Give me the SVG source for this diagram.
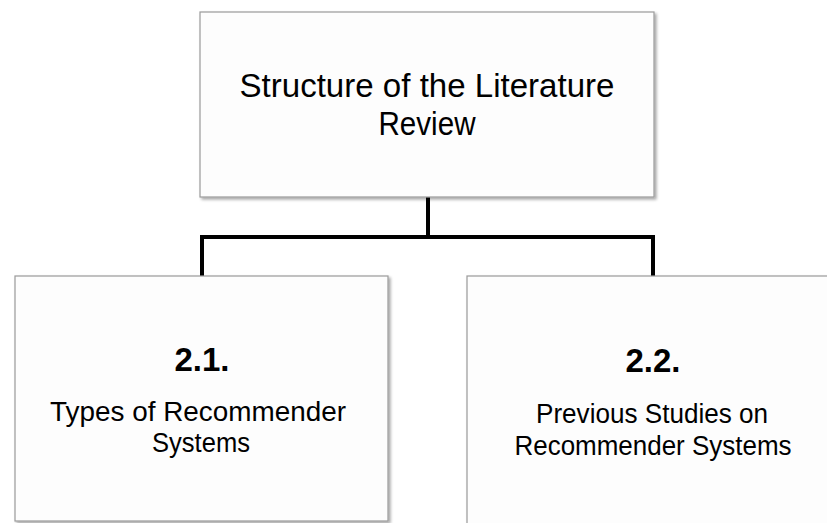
<svg xmlns="http://www.w3.org/2000/svg" width="827" height="523" viewBox="0 0 827 523">
<style>
.box{fill:#fdfdfd;stroke:#9a9a9a;stroke-width:1.2;filter:url(#sh)}
.t{font-family:"Liberation Sans",Arial,sans-serif;fill:#000;text-anchor:middle}
.b{font-weight:bold;font-size:33px}
.n{font-size:27px}
.h{font-size:33px}
.conn{fill:none;stroke:#000;stroke-width:4;stroke-linejoin:miter;stroke-linecap:butt}
</style>
<defs>
<filter id="sh" x="-5%" y="-5%" width="115%" height="115%">
<feGaussianBlur in="SourceAlpha" stdDeviation="1.5"/>
<feOffset dx="1.5" dy="2" result="o"/>
<feComponentTransfer><feFuncA type="linear" slope="0.35"/></feComponentTransfer>
<feMerge><feMergeNode/><feMergeNode in="SourceGraphic"/></feMerge>
</filter>
</defs>
<rect width="827" height="523" fill="#fff"/>
<g id="connectors">
<polyline class="conn" points="428,197 428,237"/>
<polyline class="conn" points="202,276 202,237 653,237 653,276"/>
</g>
<g id="root">
<rect class="box" x="200" y="12" width="454" height="185"/>
<text class="t h" x="427" y="97" textLength="375" lengthAdjust="spacingAndGlyphs">Structure of the Literature</text>
<text class="t h" x="427" y="135" textLength="97" lengthAdjust="spacingAndGlyphs">Review</text>
</g>
<g id="node21">
<rect class="box" x="15" y="276" width="373" height="245"/>
<text class="t b" x="202" y="371">2.1.</text>
<text class="t n" x="198" y="421" textLength="296" lengthAdjust="spacingAndGlyphs">Types of Recommender</text>
<text class="t n" x="201" y="452" textLength="98" lengthAdjust="spacingAndGlyphs">Systems</text>
</g>
<g id="node22">
<rect class="box" x="467" y="276" width="373" height="260"/>
<text class="t b" x="653" y="372">2.2.</text>
<text class="t n" x="652" y="423" textLength="232" lengthAdjust="spacingAndGlyphs">Previous Studies on</text>
<text class="t n" x="653" y="455" textLength="277" lengthAdjust="spacingAndGlyphs">Recommender Systems</text>
</g>
</svg>
